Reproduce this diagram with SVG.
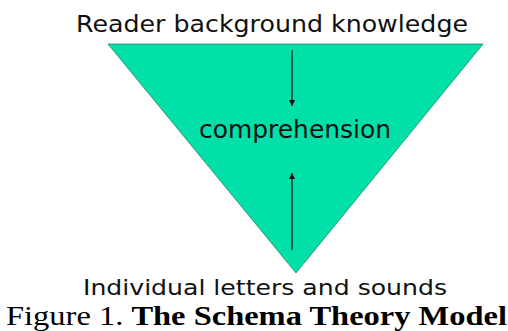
<svg xmlns="http://www.w3.org/2000/svg" width="508" height="331" viewBox="0 0 508 331">
<style>
.lbl{font-family:"DejaVu Sans","Verdana",sans-serif;fill:#111;}
.cap{font-family:"Liberation Serif","Times New Roman",serif;fill:#000;font-size:28px;}
.conn{stroke:#111;stroke-width:1.2;fill:none;}
</style>
<defs>
<marker id="ah" viewBox="0 0 10 10" refX="10" refY="5" markerWidth="6" markerHeight="6" markerUnits="userSpaceOnUse" orient="auto">
<path d="M0,0 L10,5 L0,10 z" fill="#111"/>
</marker>
</defs>
<rect width="508" height="331" fill="#fff"/>
<g id="triangle">
<polygon points="108,44 483,44 296,273" fill="#00E0A8" stroke="#2f7f60" stroke-width="0.8"/>
</g>
<g id="top-label">
<text class="lbl" x="76" y="32" font-size="23" textLength="392" lengthAdjust="spacingAndGlyphs">Reader background knowledge</text>
</g>
<g id="center-label">
<text class="lbl" x="199" y="138" font-size="24" textLength="192" lengthAdjust="spacingAndGlyphs">comprehension</text>
</g>
<g id="bottom-label">
<text class="lbl" x="83" y="295" font-size="22" textLength="364" lengthAdjust="spacingAndGlyphs">Individual letters and sounds</text>
</g>
<g id="connectors">
<line class="conn" x1="292" y1="50" x2="292" y2="106" marker-end="url(#ah)"/>
<line class="conn" x1="292" y1="250" x2="292" y2="173" marker-end="url(#ah)"/>
</g>
<g id="caption">
<text class="cap" x="6" y="325" textLength="501" lengthAdjust="spacingAndGlyphs">Figure 1. <tspan font-weight="bold">The Schema Theory Model</tspan></text>
</g>
</svg>
